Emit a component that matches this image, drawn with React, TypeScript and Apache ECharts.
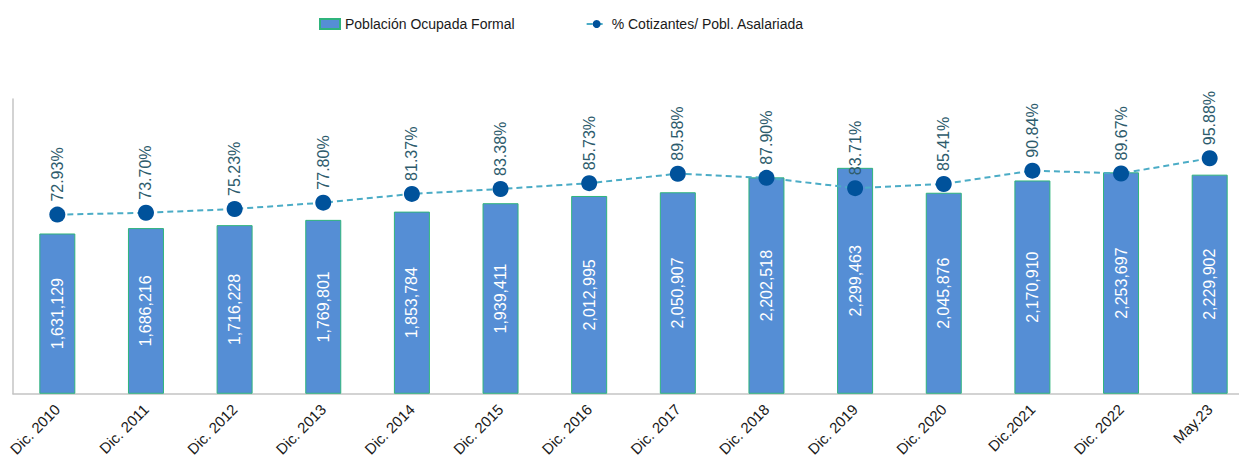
import React, { useEffect, useRef } from "react";
import * as echarts from "echarts";

const categories = [
  "Dic. 2010", "Dic. 2011", "Dic. 2012", "Dic. 2013", "Dic. 2014", "Dic. 2015", "Dic. 2016",
  "Dic. 2017", "Dic. 2018", "Dic. 2019", "Dic. 2020", "Dic.2021", "Dic. 2022", "May.23",
];
const poblacionOcupadaFormal = [
  1631129, 1686216, 1716228, 1769801, 1853784, 1939411, 2012995,
  2050907, 2202518, 2299463, 2045876, 2170910, 2253697, 2229902,
];
const cotizantesPct = [
  72.93, 73.70, 75.23, 77.80, 81.37, 83.38, 85.73,
  89.58, 87.90, 83.71, 85.41, 90.84, 89.67, 95.88,
];
const seriesNames = ["Población Ocupada Formal", "% Cotizantes/ Pobl. Asalariada"];

export default function App() {
  const ref = useRef<HTMLDivElement>(null);
  useEffect(() => {
    document.body.style.margin = "0";
    if (!ref.current) return;
    const chart = echarts.init(ref.current, undefined, { renderer: "svg" });
    chart.setOption({
      animation: false,
      textStyle: { fontFamily: "Liberation Sans, Arial, sans-serif" },
      legend: {
        left: 314,
        top: 12,
        itemWidth: 20,
        itemHeight: 10,
        itemGap: 71,
        textStyle: { fontSize: 14, color: "#1a1a1a" },
        data: [
          { name: seriesNames[0], icon: "rect" },
          { name: seriesNames[1] },
        ],
      },
      grid: { left: 13, top: 99, width: 1241, height: 296, containLabel: false },
      xAxis: {
        type: "category",
        data: categories,
        axisTick: { show: false },
        axisLine: { lineStyle: { color: "#c4c4c4", width: 1.5 } },
        axisLabel: { rotate: 45, fontSize: 15, color: "#1a1a1a", margin: 13, interval: 0 },
      },
      yAxis: [
        {
          type: "value",
          min: 0,
          max: 3000000,
          axisLine: { show: true, lineStyle: { color: "#c4c4c4", width: 1.5 } },
          axisLabel: { show: false },
          axisTick: { show: false },
          splitLine: { show: false },
        },
        {
          type: "value",
          min: 0,
          max: 120,
          show: false,
          splitLine: { show: false },
        },
      ],
      series: [
        {
          name: seriesNames[0],
          type: "bar",
          data: poblacionOcupadaFormal,
          barWidth: 36,
          itemStyle: { color: "#558ed5", borderColor: "#2fb47c", borderWidth: 1 },
          label: {
            show: true,
            position: "inside",
            rotate: 90,
            color: "#ffffff",
            fontSize: 16,
            formatter: (p: any) => Number(p.value).toLocaleString("en-US"),
          },
        },
        {
          name: seriesNames[1],
          type: "line",
          yAxisIndex: 1,
          data: cotizantesPct,
          symbol: "circle",
          symbolSize: 16,
          itemStyle: { color: "#00529b" },
          lineStyle: { color: "#4bacc6", width: 2, type: [6, 4] },
          z: 5,
          label: {
            show: true,
            position: "top",
            distance: 5,
            rotate: 90,
            align: "left",
            verticalAlign: "middle",
            color: "#2d5b6c",
            fontSize: 16,
            formatter: (p: any) => Number(p.value).toFixed(2) + "%",
          },
        },
      ],
    });
    return () => chart.dispose();
  }, []);
  return (
    <div style={{ width: 1239, height: 459, overflow: "hidden" }}>
      <div ref={ref} style={{ width: 1260, height: 459 }} />
    </div>
  );
}
